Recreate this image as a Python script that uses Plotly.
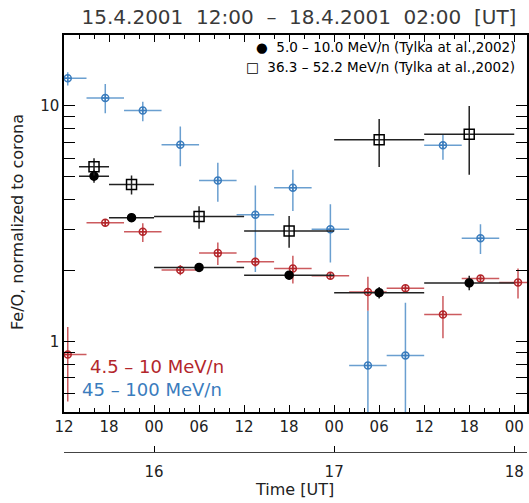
import pandas as pd
import plotly.graph_objects as go

t0 = pd.Timestamp("2001-04-15 12:00")
t_end = 61.7  # hours shown (right edge of the picture)

# 5 h bins (centres), 4.5-10 MeV/n and 45-100 MeV/n
t_5h = ["2001-04-15 12:30", "2001-04-15 17:30", "2001-04-15 22:30",
        "2001-04-16 03:30", "2001-04-16 08:30", "2001-04-16 13:30",
        "2001-04-16 18:30", "2001-04-16 23:30", "2001-04-17 04:30",
        "2001-04-17 09:30", "2001-04-17 14:30", "2001-04-17 19:30",
        "2001-04-18 00:30"]
bin_half = 2.5

red_val = [0.88, 3.19, 2.92, 2.01, 2.37, 2.18, 2.04, 1.90, 1.62, 1.68, 1.30, 1.85, 1.78]
red_hi = [1.15, 3.29, 3.17, 2.11, 2.63, 2.27, 2.31, 1.95, 1.88, 1.72, 1.56, 1.90, 2.04]
red_lo = [0.555, 3.09, 2.64, 1.91, 2.11, 2.07, 1.76, 1.85, 1.35, 1.64, 1.03, 1.80, 1.52]

blue_val = [13.1, 10.8, 9.55, 6.84, 4.82, 3.45, 4.49, 2.99, 0.79, 0.87, 6.80, 2.74]
blue_hi = [13.9, 12.4, 10.4, 8.17, 5.74, 4.59, 5.36, 3.82, 1.35, 1.46, 7.6, 3.14]
blue_lo = [12.2, 9.31, 8.6, 5.54, 3.92, 1.97, 3.58, 2.16, 0.2, 0.2, 5.9, 2.35]

# Tylka et al. 2002 bins
ty_start = ["2001-04-15 14:00", "2001-04-15 18:00", "2001-04-16 00:00",
            "2001-04-16 12:00", "2001-04-17 00:00", "2001-04-17 12:00"]
ty_stop = ["2001-04-15 18:00", "2001-04-16 00:00", "2001-04-16 12:00",
           "2001-04-17 00:00", "2001-04-17 12:00", "2001-04-18 00:00"]
circ_val = [5.03, 3.35, 2.06, 1.91, 1.61, 1.77]
circ_hi = [5.35, 3.48, 2.12, 1.98, 1.70, 1.90]
circ_lo = [4.72, 3.22, 2.00, 1.84, 1.52, 1.65]
sq_val = [5.51, 4.64, 3.39, 2.94, 7.18, 7.57]
sq_hi = [6.00, 5.06, 3.75, 3.41, 8.8, 10.0]
sq_lo = [5.06, 4.20, 3.01, 2.50, 5.5, 5.1]

# tick labels
hour_text = ["12", "18", "00", "06", "12", "18", "00", "06", "12", "18", "00"]
day_ticks = ["2001-04-16", "2001-04-17", "2001-04-18"]
day_text = ["16", "17", "18"]


def hrs(ts):
    return [(pd.Timestamp(t) - t0).total_seconds() / 3600 for t in ts]


def diff(a, b):
    return [x - y for x, y in zip(a, b)]


RED, RED_BAR = "#b3262b", "#cc5a5e"
BLUE, BLUE_BAR = "#3a7cbd", "#6a9fd0"
FONT = "DejaVu Sans"
TXT = "#222222"

x5 = hrs(t_5h)
xs, xe = hrs(ty_start), hrs(ty_stop)
xc = [(a + b) / 2 for a, b in zip(xs, xe)]
xh = [(b - a) / 2 for a, b in zip(xs, xe)]

fig = go.Figure()


def add(x, y, hi, lo, ex, col, barcol, sym, size):
    fig.add_trace(go.Scatter(
        x=x, y=y, mode="markers",
        marker=dict(symbol=sym, size=size, color=col, line=dict(width=1.5, color=col)),
        error_y=dict(type="data", symmetric=False, array=diff(hi, y), arrayminus=diff(y, lo),
                     color=barcol, thickness=1.5, width=0),
        error_x=dict(type="data", array=ex, color=barcol, thickness=1.5, width=0),
        showlegend=False))


add(x5[:len(blue_val)], blue_val, blue_hi, blue_lo, [bin_half] * len(blue_val),
    BLUE, BLUE_BAR, "circle-cross-open", 7)
add(x5, red_val, red_hi, red_lo, [bin_half] * len(red_val),
    RED, RED_BAR, "circle-cross-open", 7)
add(xc, circ_val, circ_hi, circ_lo, xh, "black", "#222222", "circle", 8)
add(xc, sq_val, sq_hi, sq_lo, xh, "black", "#222222", "square-open", 10)

# dummy trace so the day axis is drawn
fig.add_trace(go.Scatter(x=[-10], y=[1], xaxis="x2", mode="markers",
                         marker=dict(opacity=0), showlegend=False, hoverinfo="skip"))

axfont = dict(family=FONT, size=15, color=TXT)
fig.update_layout(
    width=529, height=503,
    margin=dict(l=64, r=0, t=35, b=50.5),
    paper_bgcolor="white", plot_bgcolor="white",
    font=axfont,
    title=dict(text="15.4.2001  12:00  –  18.4.2001  02:00  [UT]",
               font=dict(family=FONT, size=20, color="#3a3a3a"),
               x=(300 - 64) / 465, xref="paper", xanchor="center",
               y=1 - 17 / 503, yanchor="middle"),
    xaxis=dict(range=[0, t_end], showgrid=False, zeroline=False,
               showline=True, linecolor="black", linewidth=1.5, mirror="allticks",
               ticks="inside", ticklen=7, tickwidth=1.2, tickcolor="black",
               tickvals=[6 * i for i in range(len(hour_text))], ticktext=hour_text,
               minor=dict(tickvals=list(range(0, 62, 2)), ticks="inside", ticklen=4,
                          tickwidth=1.2, tickcolor="black"),
               tickfont=axfont),
    xaxis2=dict(overlaying="x", anchor="free", position=0, side="bottom",
                range=[0, t_end], showgrid=False, zeroline=False,
                showline=True, linecolor="#444", linewidth=1.2,
                ticks="inside", ticklen=6, tickcolor="black",
                tickvals=hrs(day_ticks), ticktext=day_text,
                ticklabelstandoff=6, tickfont=axfont),
    yaxis=dict(type="log", domain=[(452.5 - 412.7) / 417.5, 1],
               range=[-0.30103, 1.30103], showgrid=False, zeroline=False,
               showline=True, linecolor="black", linewidth=1.5, mirror="allticks",
               ticks="inside", ticklen=11, tickwidth=1.2, tickcolor="black",
               tickvals=[1, 10], ticktext=["1", "10"],
               minor=dict(tickvals=[0.6, 0.7, 0.8, 0.9, 2, 3, 4, 5, 6, 7, 8, 9, 20],
                          ticks="inside", ticklen=5, tickwidth=1.2, tickcolor="black"),
               tickfont=axfont),
)

ann = [
    dict(text="Fe/O, normalized to corona", x=(18 - 64) / 465, y=(452.5 - 222) / 417.5,
         textangle=-90, font=dict(family=FONT, size=16, color=TXT)),
    dict(text="Time [UT]", x=(295 - 64) / 465, y=(452.5 - 490) / 417.5,
         font=dict(family=FONT, size=16, color=TXT)),
    dict(text="●  5.0 – 10.0 MeV/n (Tylka at al.,2002)", x=(519 - 64) / 465,
         y=(452.5 - 47.5) / 417.5, xanchor="right",
         font=dict(family=FONT, size=13.5, color="black")),
    dict(text="□  36.3 – 52.2 MeV/n (Tylka at al.,2002)", x=(519 - 64) / 465,
         y=(452.5 - 67.5) / 417.5, xanchor="right",
         font=dict(family=FONT, size=13.5, color="black")),
    dict(text="4.5 – 10 MeV/n", x=(88 - 64) / 465, y=(452.5 - 366.7) / 417.5,
         xanchor="left", font=dict(family=FONT, size=18, color=RED)),
    dict(text="45 – 100 MeV/n", x=(80 - 64) / 465, y=(452.5 - 390) / 417.5,
         xanchor="left", font=dict(family=FONT, size=18, color=BLUE)),
]
for a in ann:
    a.setdefault("xanchor", "center")
    fig.add_annotation(xref="paper", yref="paper", showarrow=False, yanchor="middle", **a)

# no page margin, so the 529x503 figure fills the window exactly
fig.write_html("out.html", config={"displayModeBar": False},
               post_script="document.body.style.margin='0';")
